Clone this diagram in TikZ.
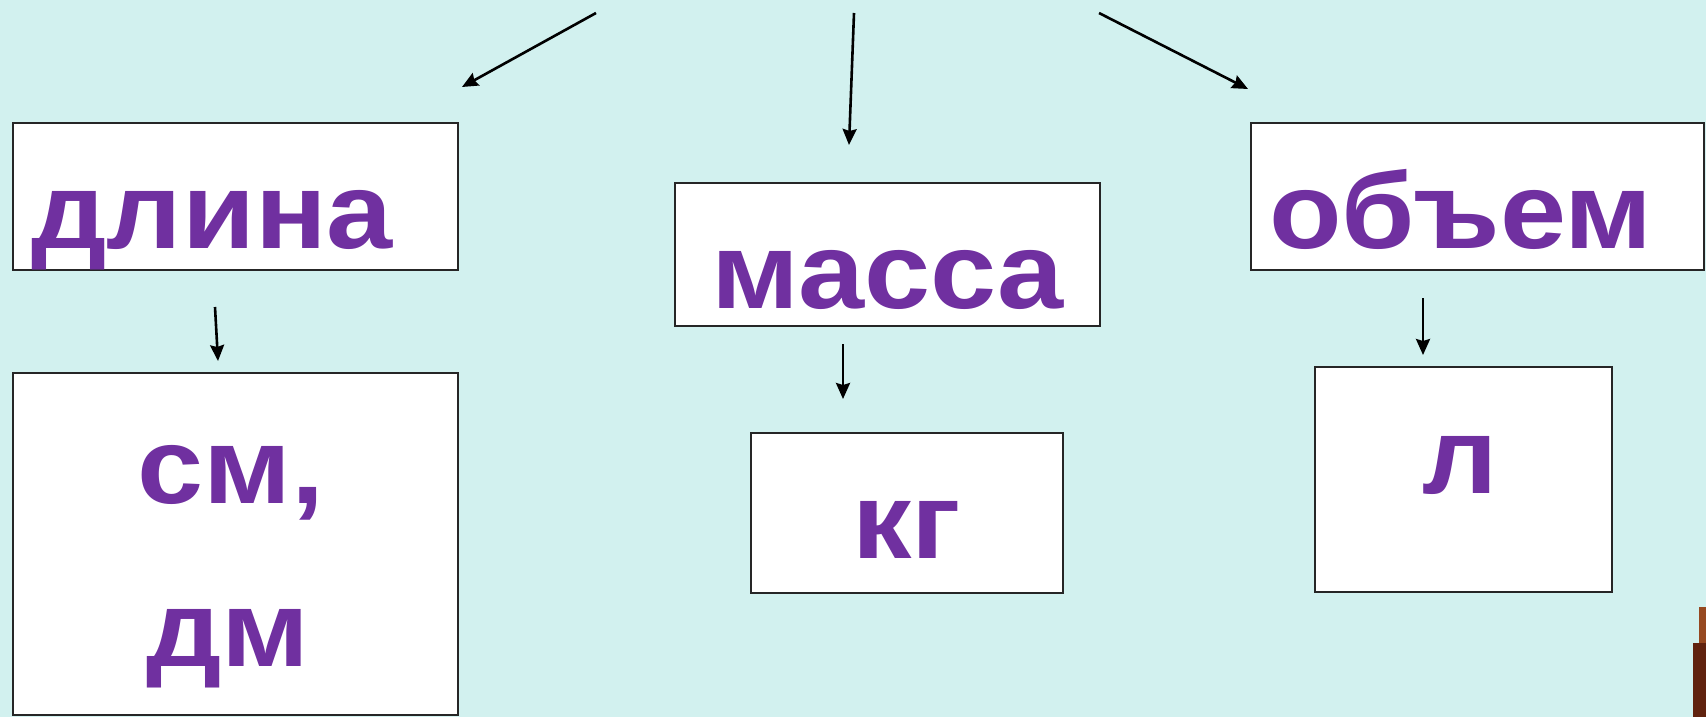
\documentclass[tikz,border=0pt]{standalone}
\usepackage{fontspec}
\newfontfamily\unitfont{Liberation Sans}[FakeStretch=1.1]
\usetikzlibrary{arrows.meta,fit}
\definecolor{bgcyan}{RGB}{210,241,239}
\definecolor{wordpurple}{RGB}{112,48,160}
\definecolor{stubbrown}{RGB}{96,34,14}
\definecolor{stubrust}{RGB}{150,72,32}

\begin{document}
\begin{tikzpicture}[x=0.5pt,y=-0.5pt,>={Stealth[length=8pt,width=7pt,inset=1pt]},
    box/.style={draw=black!85,fill=white,line width=1.2pt,inner sep=0pt},
    word/.style={text=wordpurple,font=\unitfont\bfseries\fontsize{54}{60}\selectfont,
      anchor=base,inner sep=0pt},
    link/.style={->,line width=1.3pt}]
  \fill[bgcyan] (0,0) rectangle (1706,717);
  \useasboundingbox (0,0) rectangle (1706,717);
  \fill[stubrust] (1699,607) rectangle (1706,643);
  \fill[stubbrown] (1693,643) rectangle (1706,717);

  \node[box,fit={(13,123) (458,270)}] (dlina) {};
  \node[box,fit={(13,373) (458,715)}] (dlinaunit) {};
  \node[box,fit={(675,183) (1100,326)}] (massa) {};
  \node[box,fit={(751,433) (1063,593)}] (massaunit) {};
  \node[box,fit={(1251,123) (1704,270)}] (obem) {};
  \node[box,fit={(1315,367) (1612,592)}] (obemunit) {};

  \node[word] (wdlina) at (212,248) {длина};
  \node[word] (wmassa) at (888,308) {масса};
  \node[word] (wobem) at (1461,248) {объем};
  \node[word] (wsm) at (231,503) {см,};
  \node[word] (wdm) at (228,666) {дм};
  \node[word] (wkg) at (907,558) {кг};
  \node[word] (wl) at (1460,493) {л};

  \coordinate (dlinain) at (596,13);   \coordinate (dlinatip) at (462,87);
  \coordinate (massain) at (854,13);   \coordinate (massatip) at (849,145);
  \coordinate (obemin) at (1099,13);   \coordinate (obemtip) at (1248,89);
  \coordinate (dlinaout) at (215,307); \coordinate (dlinaend) at (218,361);
  \coordinate (massaout) at (843,344); \coordinate (massaend) at (843,399);
  \coordinate (obemout) at (1423,298); \coordinate (obemend) at (1423,355);

  \path[link] (dlinain) edge (dlinatip)
    (massain) edge (massatip)
    (obemin) edge (obemtip)
    (dlinaout) edge (dlinaend)
    (massaout) edge (massaend)
    (obemout) edge (obemend);
\end{tikzpicture}
\end{document}
